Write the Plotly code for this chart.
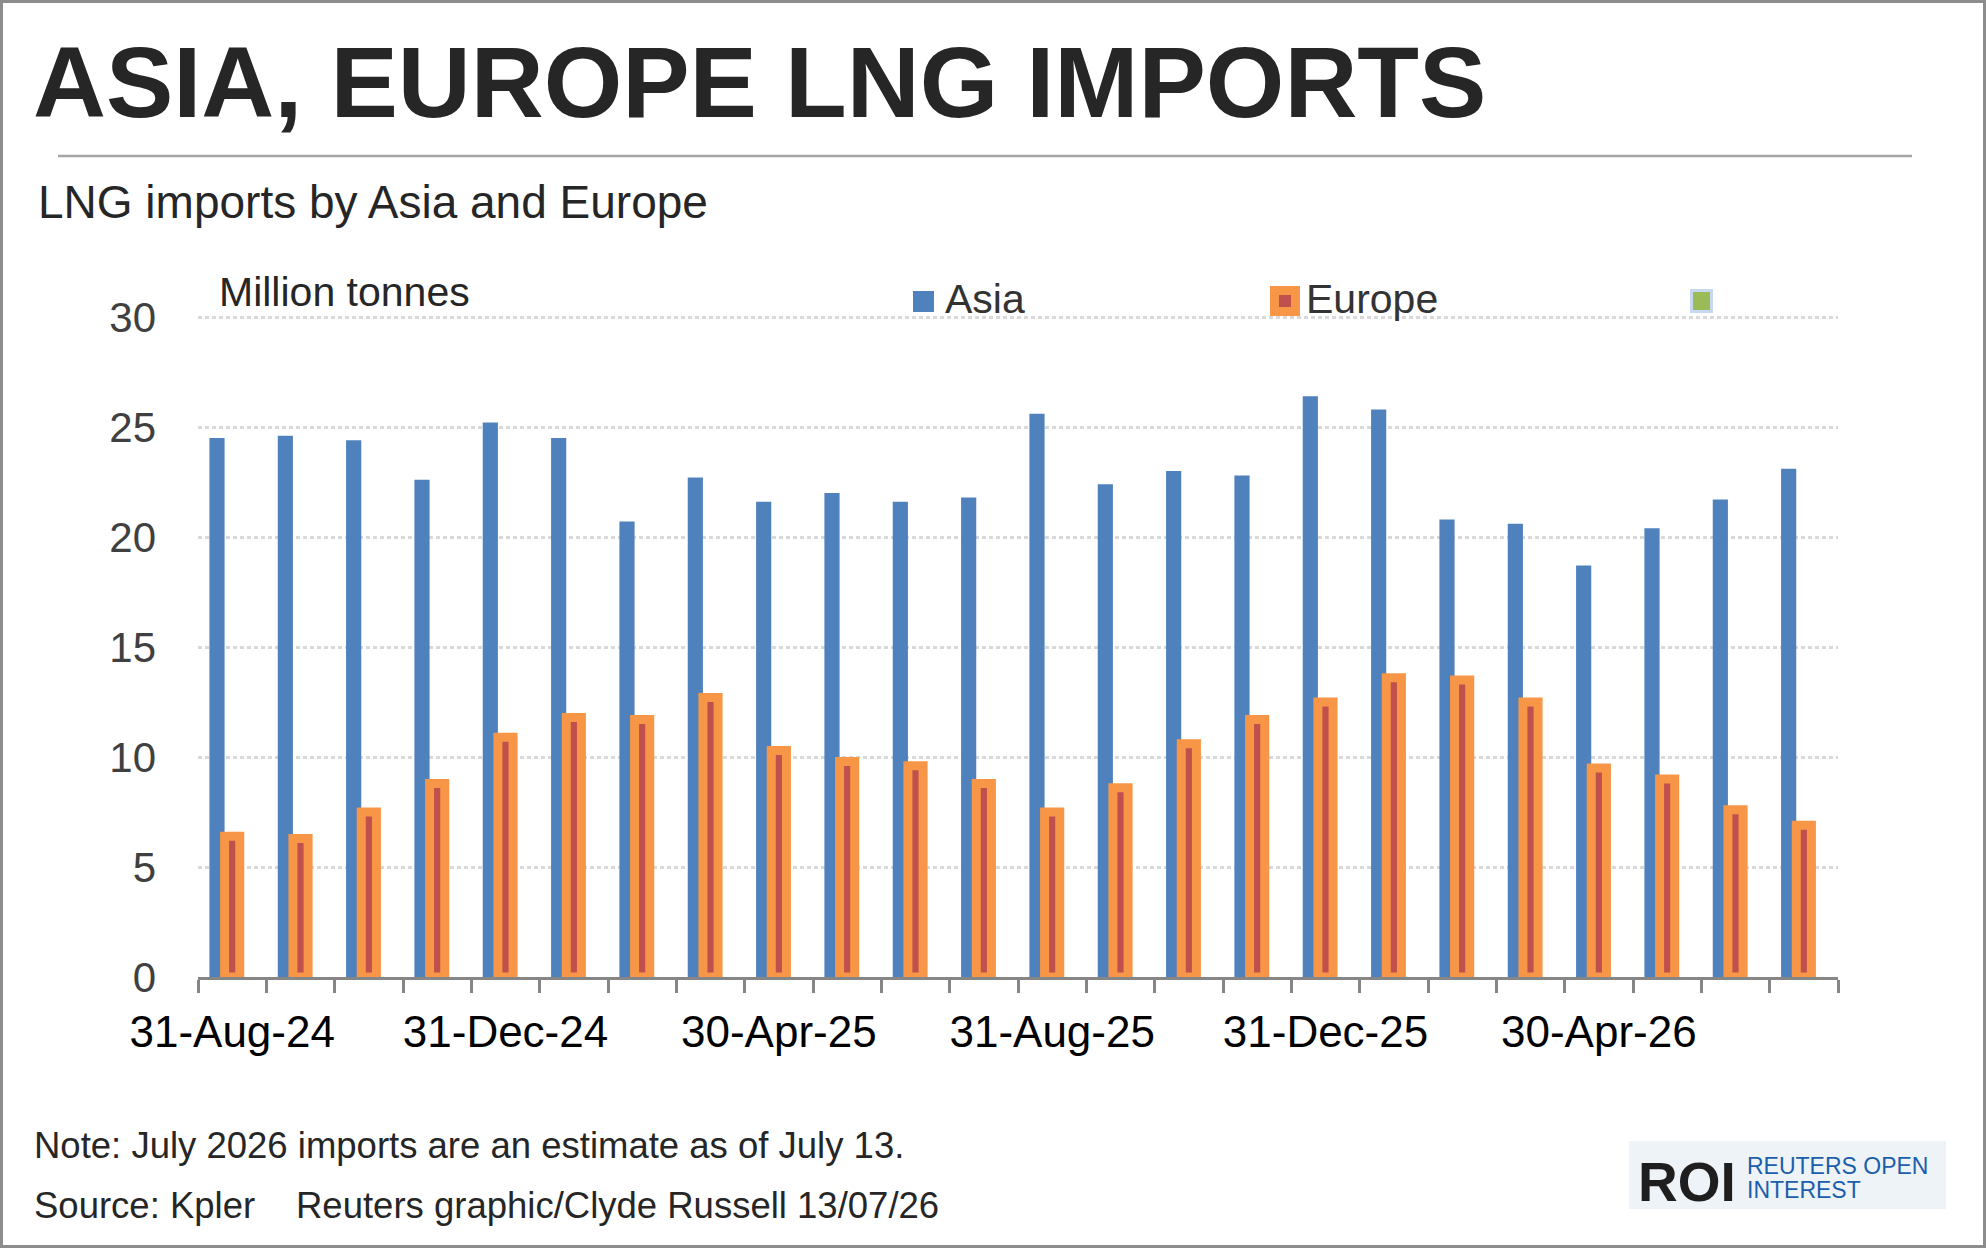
import plotly.graph_objects as go

# canvas and plot area in pixels, measured on the reference
W, H = 1986, 1248
PLOT_L, PLOT_R = 198, 1838
PLOT_T, PLOT_B = 315, 977
Y_TOP = 30 * (PLOT_B - PLOT_T) / 660.0  # 30 sits at y=317 so its gridline is drawn

FONT = "Liberation Sans, Arial, Helvetica, sans-serif"


def px_x(x):
    return (x - PLOT_L) / (PLOT_R - PLOT_L)


def px_y(y):
    return (PLOT_B - y) / (PLOT_B - PLOT_T)


# --- data (million tonnes, month end) ---
months = [
    "31-Aug-24", "30-Sep-24", "31-Oct-24", "30-Nov-24", "31-Dec-24", "31-Jan-25",
    "28-Feb-25", "31-Mar-25", "30-Apr-25", "31-May-25", "30-Jun-25", "31-Jul-25",
    "31-Aug-25", "30-Sep-25", "31-Oct-25", "30-Nov-25", "31-Dec-25", "31-Jan-26",
    "28-Feb-26", "31-Mar-26", "30-Apr-26", "31-May-26", "30-Jun-26", "31-Jul-26",
]
asia = [24.5, 24.6, 24.4, 22.6, 25.2, 24.5, 20.7, 22.7, 21.6, 22.0, 21.6, 21.8,
        25.6, 22.4, 23.0, 22.8, 26.4, 25.8, 20.8, 20.6, 18.7, 20.4, 21.7, 23.1]
europe = [6.4, 6.3, 7.5, 8.8, 10.9, 11.8, 11.7, 12.7, 10.3, 9.8, 9.6, 8.8,
          7.5, 8.6, 10.6, 11.7, 12.5, 13.6, 13.5, 12.5, 9.5, 9.0, 7.6, 6.9]
label_every = 4
tick_text = [m if i % label_every == 0 else "" for i, m in enumerate(months)]
y_ticks = [0, 5, 10, 15, 20, 25, 30]

BLUE = "#4F81BD"
RED = "#C0504D"
ORANGE = "#F79646"
GREEN = "#9BBB59"

# excel-style grouping: 3 slots per category, third series is empty
BAR_W = 0.222

fig = go.Figure()
fig.add_trace(go.Bar(
    x=months, y=asia, name="Asia",
    marker=dict(color=BLUE, line=dict(width=0)),
    width=BAR_W, offset=-1.5 * BAR_W, showlegend=False,
))
fig.add_trace(go.Bar(
    x=months, y=europe, name="Europe",
    marker=dict(color=RED, line=dict(color=ORANGE, width=9)),
    width=BAR_W, offset=-0.5 * BAR_W, showlegend=False, cliponaxis=False,
))

fig.update_layout(
    width=W, height=H,
    margin=dict(l=PLOT_L, r=W - PLOT_R, t=PLOT_T, b=H - PLOT_B, pad=0),
    paper_bgcolor="white", plot_bgcolor="white",
    font=dict(family=FONT, color="#262626"),
    barmode="overlay",
    showlegend=False,
)

fig.update_xaxes(
    type="category", range=[-0.5, len(months) - 0.5],
    tickmode="array", tickvals=months, ticktext=tick_text,
    tickson="boundaries", ticks="outside", ticklen=13, tickwidth=2.7,
    tickcolor="#868686", showline=True, linecolor="#868686", linewidth=2.7,
    showgrid=False, tickangle=0, ticklabelstandoff=14,
    tickfont=dict(size=44, color="#000000", family=FONT),
)
fig.update_yaxes(
    range=[0, Y_TOP], tickmode="array", tickvals=y_ticks,
    showgrid=True, gridcolor="#D9D9D9", gridwidth=2.5, griddash="4px,3px",
    zeroline=False, showline=False, ticks="", ticklabelstandoff=41,
    tickfont=dict(size=42, color="#404040", family=FONT),
)

annotations = []
shapes = []


def add_text(text, x, y, size, color="#262626", xanchor="left"):
    annotations.append(dict(
        text=text, x=px_x(x), y=px_y(y), xref="paper", yref="paper",
        xanchor=xanchor, yanchor="middle", showarrow=False,
        font=dict(family=FONT, size=size, color=color),
    ))


# header
add_text("<b>ASIA, EUROPE LNG IMPORTS</b>", 31, 82, 101)
shapes.append(dict(type="line", xref="paper", yref="paper",
                   x0=px_x(58), x1=px_x(1912), y0=px_y(156), y1=px_y(156),
                   line=dict(color="#A6A6A6", width=2.7)))
add_text("LNG imports by Asia and Europe", 36, 202, 46)
add_text("Million tonnes", 217, 292, 41)


# legend (drawn like the excel one)
def legend_box(x0, y0, x1, y1, fill, line_color=None, line_width=0):
    shapes.append(dict(type="rect", xref="paper", yref="paper",
                       x0=px_x(x0), x1=px_x(x1), y0=px_y(y0), y1=px_y(y1),
                       fillcolor=fill,
                       line=dict(color=line_color or fill, width=line_width)))


legend_box(913, 291, 934, 312, BLUE)
add_text("Asia", 943, 299, 41, "#333333")
legend_box(1274.5, 290.5, 1295.5, 311.5, RED, ORANGE, 9)
add_text("Europe", 1304, 299, 41, "#333333")
legend_box(1691.5, 290.5, 1711.5, 311.5, GREEN, "#C6D9F1", 3)

# footer
add_text("Note: July 2026 imports are an estimate as of July 13.", 32, 1145, 36.5)
add_text("Source: Kpler", 32, 1205, 36.5)
add_text("Reuters graphic/Clyde Russell 13/07/26", 294, 1205, 36.5)

# ROI badge
shapes.append(dict(type="rect", xref="paper", yref="paper",
                   x0=px_x(1629), x1=px_x(1946), y0=px_y(1141), y1=px_y(1209),
                   fillcolor="#EEF3F8", line=dict(width=0)))
add_text("<b>ROI</b>", 1636, 1182, 55, "#1E1E1E")
add_text("REUTERS OPEN", 1745, 1166, 23, "#1B5EAB")
add_text("INTEREST", 1745, 1190, 23, "#1B5EAB")

# outer frame
shapes.append(dict(type="rect", xref="paper", yref="paper",
                   x0=px_x(1.5), x1=px_x(W - 1.5), y0=px_y(1.5), y1=px_y(H - 1.5),
                   line=dict(color="#8C8C8C", width=3), fillcolor="rgba(0,0,0,0)"))

fig.update_layout(annotations=annotations, shapes=shapes)

# page body has an 8px default margin; drop it so the figure fills the window
fig.write_html(
    "out.html",
    config={"displayModeBar": False},
    post_script="document.body.style.margin='0';document.body.style.overflow='hidden';",
)
